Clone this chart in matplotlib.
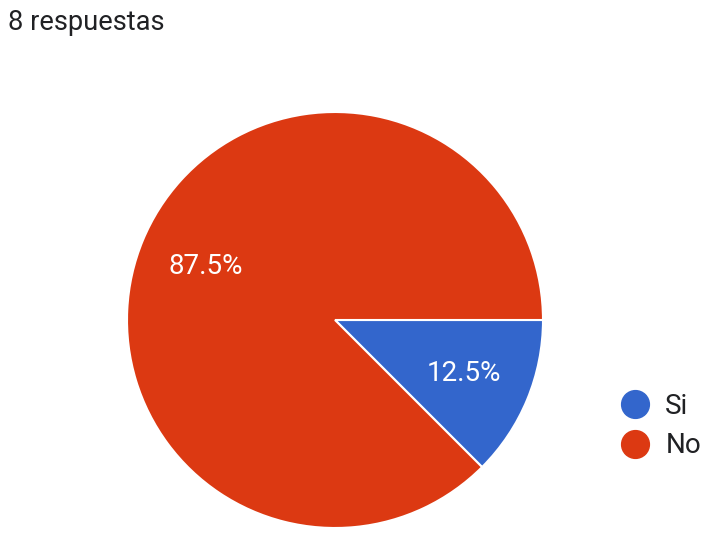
import matplotlib.pyplot as plt
from matplotlib.lines import Line2D

plt.rcParams['font.family'] = ['Roboto', 'DejaVu Sans']

# data
labels = ['Si', 'No']
counts = [1, 7]
colors = ['#3366cc', '#dc3912']
title = '8 respuestas'

W, H = 703, 535
fig = plt.figure(figsize=(W / 100, H / 100), dpi=100)

# pie axes placed in pixel space: center (335, 320), radius 208
cx, cy, r = 335, 320, 208
ax = fig.add_axes([(cx - r) / W, (H - cy - r) / H, 2 * r / W, 2 * r / H])
wedges, texts, autotexts = ax.pie(
    counts, colors=colors, startangle=0, counterclock=False,
    autopct='%1.1f%%', pctdistance=0.67,
    wedgeprops=dict(edgecolor='white', linewidth=1.5),
    textprops=dict(color='white', fontsize=20))
ax.set_xlim(-1, 1)
ax.set_ylim(-1, 1)
ax.set_aspect('equal')
ax.axis('off')

fig.text(8 / W, 1 - 22 / H, title, fontsize=19.6, color='#202124',
         ha='left', va='center')

handles = [Line2D([], [], marker='o', linestyle='none', markersize=20,
                  markerfacecolor=c, markeredgecolor=c) for c in colors]
fig.legend(handles, labels, loc='center left',
           bbox_to_anchor=(582 / W, 1 - 426 / H), frameon=False,
           fontsize=20, handletextpad=0.1, labelspacing=0.45,
           labelcolor='#202124')

fig.savefig('out.png', dpi=100)
